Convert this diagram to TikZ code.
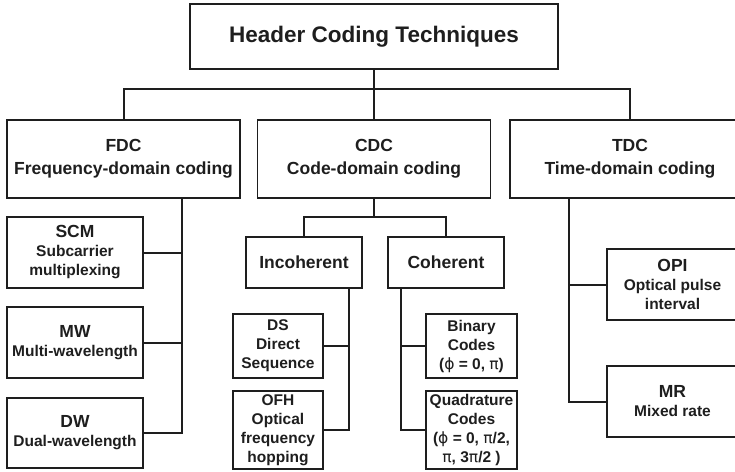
\documentclass[tikz,border=0pt]{standalone}
\usepackage{fontspec}
\setmainfont{Liberation Sans}
\newfontfamily\greekfont{DejaVu Sans}
\newcommand{\gphi}{{\greekfont\mdseries ϕ}}
\newcommand{\gpi}{{\greekfont\mdseries π}}
\newcommand{\ttl}[1]{{\fontsize{17.5}{19}\selectfont #1}}
\definecolor{ink}{HTML}{1E1E1E}

\begin{document}
\begin{tikzpicture}[x=1pt,y=-1pt,
  box/.style={draw=ink, line width=1.4pt, fill=white, align=center, inner sep=0pt,
              text=ink, font=\bfseries\fontsize{15.5}{19}\selectfont},
  big/.style={box, font=\bfseries\fontsize{17.5}{23}\selectfont},
  link/.style={draw=ink, line width=2pt}]

\useasboundingbox (0,0) rectangle (735,471);
\clip (0,0) rectangle (735,471);

% root and the three coding families
\node[box, font=\bfseries\fontsize{22.5}{27}\selectfont,
      minimum width=368pt, minimum height=65pt] (hdr) at (374,36.5) {Header Coding Techniques};
\node[big, minimum width=233pt, minimum height=78pt] (fdc) at (123.5,159) {FDC\\Frequency-domain coding};
\node[big, minimum width=233pt, minimum height=78pt] (cdc) at (374,159) {CDC\\Code-domain coding};
\node[big, minimum width=240pt, minimum height=78pt] (tdc) at (630,159) {TDC\\Time-domain coding};

% frequency-domain techniques
\node[box, minimum width=136pt, minimum height=71pt] (scm) at (75,252.5) {\ttl{SCM}\\Subcarrier\\multiplexing};
\node[box, minimum width=136pt, minimum height=71pt] (mw)  at (75,342.5) {\ttl{MW}\\Multi-wavelength};
\node[box, minimum width=136pt, minimum height=70pt] (dw)  at (75,433)   {\ttl{DW}\\Dual-wavelength};

% code-domain techniques
\node[big, minimum width=116pt, minimum height=51pt] (inc) at (304,262.5) {Incoherent};
\node[big, minimum width=116pt, minimum height=51pt] (coh) at (446,262.5) {Coherent};
\node[box, minimum width=90pt, minimum height=64pt] (ds)  at (278,346) {DS\\Direct\\Sequence};
\node[box, minimum width=90pt, minimum height=78pt] (ofh) at (278,430) {OFH\\Optical\\frequency\\hopping};
\node[box, minimum width=91pt, minimum height=64pt] (bin) at (471.5,346) {Binary\\Codes\\(\gphi{} = 0, \gpi)};
\node[box, minimum width=91pt, minimum height=78pt] (quad) at (471.5,430) {Quadrature\\Codes\\(\gphi{} = 0, \gpi/2,\\\gpi, 3\gpi/2 )};

% time-domain techniques
\node[box, minimum width=131pt, minimum height=71pt] (opi) at (672.5,284.5) {\ttl{OPI}\\Optical pulse\\interval};
\node[box, minimum width=131pt, minimum height=71pt] (mr)  at (672.5,401.5) {\ttl{MR}\\Mixed rate};

% connectors
\coordinate (bar)  at (374,89);
\coordinate (cbar) at (374,217);
\coordinate (fs) at (182,0);
\coordinate (is) at (349,0);
\coordinate (cs) at (401,0);
\coordinate (ts) at (569,0);

\draw[link] (hdr.south) -- (cdc.north);
\draw[link] (fdc.north) |- (bar) -| (tdc.north);

\draw[link] (cdc.south) -- (cbar);
\draw[link] (inc.north) |- (cbar) -| (coh.north);

\draw[link] (fdc.south -| fs) |- (dw.east);
\draw[link] (scm.east) -- (scm.east -| fs);
\draw[link] (mw.east) -- (mw.east -| fs);

\draw[link] (inc.south -| is) |- (ofh.east);
\draw[link] (ds.east) -- (ds.east -| is);

\draw[link] (coh.south -| cs) |- (quad.west);
\draw[link] (bin.west) -- (bin.west -| cs);

\draw[link] (tdc.south -| ts) |- (mr.west);
\draw[link] (opi.west) -- (opi.west -| ts);
\end{tikzpicture}
\end{document}
